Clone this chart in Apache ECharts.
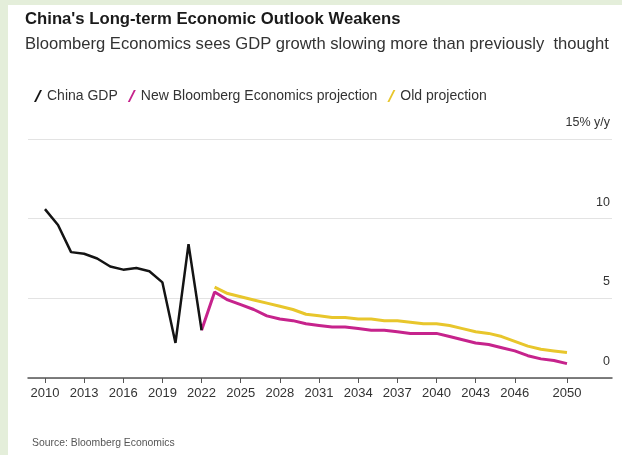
<!DOCTYPE html>
<html>
<head>
<meta charset="utf-8">
<script src="https://cdn.jsdelivr.net/npm/echarts@6/dist/echarts.min.js"></script>
<style>
html,body{margin:0;padding:0;background:#e4eeda;}
#c{width:622px;height:455px;}
</style>
</head>
<body>
<div id="c"></div>
<script>
var gdpYears = [2010,2011,2012,2013,2014,2015,2016,2017,2018,2019,2020,2021,2022];
var gdpValues = [10.6,9.6,7.9,7.8,7.5,7.0,6.8,6.9,6.7,6.0,2.2,8.4,3.0];

var newYears = [2022,2023,2024,2025,2026,2027,2028,2029,2030,2031,2032,2033,2034,2035,2036,2037,2038,2039,2040,2041,2042,2043,2044,2045,2046,2047,2048,2049,2050];
var newValues = [3.0,5.4,4.9,4.6,4.3,3.9,3.7,3.6,3.4,3.3,3.2,3.2,3.1,3.0,3.0,2.9,2.8,2.8,2.8,2.6,2.4,2.2,2.1,1.9,1.7,1.4,1.2,1.1,0.9];

var oldYears = [2023,2024,2025,2026,2027,2028,2029,2030,2031,2032,2033,2034,2035,2036,2037,2038,2039,2040,2041,2042,2043,2044,2045,2046,2047,2048,2049,2050];
var oldValues = [5.7,5.3,5.1,4.9,4.7,4.5,4.3,4.0,3.9,3.8,3.8,3.7,3.7,3.6,3.6,3.5,3.4,3.4,3.3,3.1,2.9,2.8,2.6,2.3,2.0,1.8,1.7,1.6];

var xTickLabels = [2010,2013,2016,2019,2022,2025,2028,2031,2034,2037,2040,2043,2046,2050];
var yTicks = [0,5,10,15];

var seriesNames = ['China GDP','New Bloomberg Economics projection','Old projection'];

function pairs(xs, ys){ return xs.map(function(x,i){ return [x, ys[i]]; }); }

var slash = 'path://M0,12 L6,0 L8,0 L2,12 Z';
var fontFam = '"Liberation Sans", Arial, sans-serif';

var chart = echarts.init(document.getElementById('c'), null, {renderer:'canvas'});
chart.setOption({
  backgroundColor: '#e4eeda',
  animation: false,
  graphic: [
    {type:'rect', left: 8, top: 5, shape:{width: 614, height: 450}, style:{fill:'#ffffff'}, z: -10}
  ],
  title: [
    {text: "China's Long-term Economic Outlook Weakens", left: 20, top: 6,
     textStyle:{fontFamily: fontFam, fontSize: 16.7, fontWeight:'bold', color:'#1a1a1a'}},
    {text: 'Bloomberg Economics sees GDP growth slowing more than previously  thought', left: 20, top: 31,
     textStyle:{fontFamily: fontFam, fontSize: 16.6, fontWeight:'normal', color:'#333'}},
    {text: 'Source: Bloomberg Economics', left: 27, top: 433,
     textStyle:{fontFamily: fontFam, fontSize: 10.4, fontWeight:'normal', color:'#555'}}
  ],
  legend: {
    data: seriesNames,
    left: 29, top: 84,
    icon: slash,
    itemWidth: 8, itemHeight: 12, itemGap: 10,
    textStyle:{fontFamily: fontFam, fontSize: 14, color:'#333'},
    selectedMode: false
  },
  grid: {left: 28, right: 10, top: 139, bottom: 77, containLabel: false},
  xAxis: {
    type: 'value', min: 2008.7, max: 2053.45,
    axisLine: {show: true, lineStyle:{color:'#555', width: 1.5}},
    axisTick: {show: true, customValues: xTickLabels, length: 5, lineStyle:{color:'#555'}},
    axisLabel: {customValues: xTickLabels, margin: 9, fontFamily: fontFam, fontSize: 13, color:'#333',
                formatter: function(v){ return String(v); }},
    splitLine: {show: false}
  },
  yAxis: {
    type: 'value', position: 'right', min: 0, max: 15, interval: 5,
    axisLine: {show: false}, axisTick: {show: false},
    axisLabel: {inside: true, margin: 2, verticalAlign: 'bottom', padding: [0,0,10,0],
                fontFamily: fontFam, fontSize: 12.5, color:'#333',
                formatter: function(v){ return v === yTicks[3] ? '15% y/y' : String(v); }},
    splitLine: {show: true, lineStyle:{color:'#e3e3e3', width: 1}}
  },
  series: [
    {name: seriesNames[2], type:'line', data: pairs(oldYears, oldValues), symbol:'none',
     lineStyle:{color:'#e8c62c', width: 3}, itemStyle:{color:'#e8c62c'}, z: 2},
    {name: seriesNames[1], type:'line', data: pairs(newYears, newValues), symbol:'none',
     lineStyle:{color:'#c6238c', width: 3}, itemStyle:{color:'#c6238c'}, z: 3},
    {name: seriesNames[0], type:'line', data: pairs(gdpYears, gdpValues), symbol:'none',
     lineStyle:{color:'#141414', width: 2.5}, itemStyle:{color:'#141414'}, z: 4}
  ]
});
</script>
</body>
</html>
